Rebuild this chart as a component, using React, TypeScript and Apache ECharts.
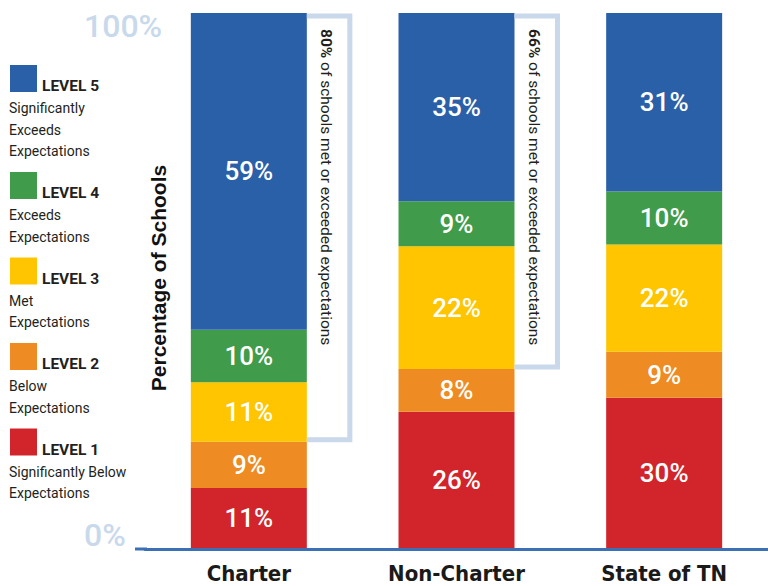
import React, { useEffect, useRef } from 'react';
import * as echarts from 'echarts';

const categories = ['Charter', 'Non-Charter', 'State of TN'];

const levelNames = ['LEVEL 1', 'LEVEL 2', 'LEVEL 3', 'LEVEL 4', 'LEVEL 5'];
const levelDescriptions = [
  ['Significantly Below', 'Expectations'],
  ['Below', 'Expectations'],
  ['Met', 'Expectations'],
  ['Exceeds', 'Expectations'],
  ['Significantly', 'Exceeds', 'Expectations'],
];
const levelColors = ['#d2242b', '#ee8b23', '#fec500', '#409b4b', '#2a60a8'];

// segment heights (percent of schools)
const level1Values = [11.4, 25.6, 28.2];
const level2Values = [8.6, 8.0, 8.6];
const level3Values = [11.1, 22.9, 20.0];
const level4Values = [9.8, 8.4, 9.9];
const level5Values = [59.1, 35.1, 33.3];

// printed labels
const level1Labels = ['11%', '26%', '30%'];
const level2Labels = ['9%', '8%', '9%'];
const level3Labels = ['11%', '22%', '22%'];
const level4Labels = ['10%', '9%', '10%'];
const level5Labels = ['59%', '35%', '31%'];

const bracketShares = [80, 66];
const yTicks = [0, 100];
const yTitle = 'Percentage of Schools';

const levelValues = [level1Values, level2Values, level3Values, level4Values, level5Values];
const levelLabels = [level1Labels, level2Labels, level3Labels, level4Labels, level5Labels];

const TEXT_FONT = 'Roboto, "Noto Sans", sans-serif';
const AXIS_BLUE = '#3b6fb6';

export default function App() {
  const ref = useRef<HTMLDivElement>(null);

  useEffect(() => {
    if (!ref.current) return;
    const chart = echarts.init(ref.current, null, { renderer: 'svg' });

    const barSeries = levelValues.map((vals, li) => ({
      type: 'bar',
      name: levelNames[li],
      stack: 'total',
      barWidth: 116,
      data: vals,
      itemStyle: { color: levelColors[li] },
      label: {
        show: true,
        position: 'inside',
        formatter: (p: any) => levelLabels[li][p.dataIndex],
        color: '#ffffff',
        fontSize: 26,
        fontWeight: 500,
        fontFamily: TEXT_FONT,
      },
    }));

    const bracketData = bracketShares.map((share, i) => [i, level1Values[i] + level2Values[i], share]);

    const bracketSeries = {
      type: 'custom',
      name: 'brackets',
      z: 5,
      encode: { x: 0, y: 1 },
      data: bracketData,
      renderItem: (params: any, api: any) => {
        const idx = api.value(0);
        const low = api.value(1);
        const share = api.value(2);
        const top = api.coord([idx, 100]);
        const bottom = api.coord([idx, low]);
        const cx = top[0];
        const x0 = cx + 58;
        const x1 = cx + 101;
        return {
          type: 'group',
          children: [
            {
              type: 'polyline',
              shape: {
                points: [
                  [x0, top[1] + 3],
                  [x1, top[1] + 3],
                  [x1, bottom[1] - 2],
                  [x0, bottom[1] - 2],
                ],
              },
              style: { stroke: '#c9d8ea', lineWidth: 5, fill: null },
            },
            {
              type: 'text',
              x: cx + 77.5,
              y: top[1] + 16,
              rotation: -Math.PI / 2,
              style: {
                text: `{b|${share}%} of schools met or exceeded expectations`,
                rich: {
                  b: { fontWeight: 'bold', fontSize: 15.5, fill: '#231f20', fontFamily: TEXT_FONT },
                },
                fontSize: 15.5,
                fontFamily: TEXT_FONT,
                fill: '#231f20',
                align: 'left',
                verticalAlign: 'middle',
              },
            },
          ],
        };
      },
    };

    // legend built from level arrays (top: level 5)
    const legendChildren: any[] = [];
    let top = 65;
    for (let li = levelNames.length - 1; li >= 0; li--) {
      legendChildren.push({
        type: 'rect',
        shape: { x: 10, y: top, width: 27, height: 27 },
        style: { fill: levelColors[li] },
      });
      legendChildren.push({
        type: 'text',
        x: 42,
        y: top + 21,
        style: {
          text: levelNames[li],
          fontSize: 15.5,
          fontWeight: 'bold',
          fontFamily: TEXT_FONT,
          fill: '#231f20',
          align: 'left',
          verticalAlign: 'middle',
        },
      });
      const desc = levelDescriptions[li];
      desc.forEach((line, k) => {
        legendChildren.push({
          type: 'text',
          x: 9,
          y: top + 43 + k * 21.5,
          style: {
            text: line,
            fontSize: 14,
            fontFamily: TEXT_FONT,
            fill: '#231f20',
            align: 'left',
            verticalAlign: 'middle',
          },
        });
      });
      top = top + 43 + (desc.length - 1) * 21.5 + 21;
    }

    const option: any = {
      animation: false,
      grid: { left: 145, right: 0, top: 13, bottom: 37 },
      xAxis: {
        type: 'category',
        data: categories,
        z: 10,
        axisLine: { lineStyle: { color: AXIS_BLUE, width: 3 } },
        axisTick: { show: false },
        axisLabel: {
          margin: 13,
          fontSize: 22,
          fontWeight: 'bold',
          fontFamily: '"Liberation Sans Narrow", "DejaVu Sans Condensed", Roboto, sans-serif',
          color: '#1a1a1a',
        },
      },
      yAxis: {
        type: 'value',
        min: yTicks[0],
        max: yTicks[1],
        interval: 100,
        axisLine: { show: false },
        axisTick: { show: false },
        splitLine: { show: false },
        axisLabel: {
          margin: 61,
          align: 'left',
          formatter: (v: number) => (v === yTicks[1] ? `{t|${v}%}` : `{b|${v}%}`),
          rich: {
            t: { padding: [26, 0, 0, 0], fontSize: 32, color: '#c9d9ec', fontFamily: TEXT_FONT, fontWeight: 500 },
            b: { padding: [0, 0, 28, 0], fontSize: 32, color: '#c9d9ec', fontFamily: TEXT_FONT, fontWeight: 500 },
          },
          fontSize: 32,
          color: '#c9d9ec',
        },
      },
      graphic: [
        { type: 'group', children: legendChildren },
        {
          type: 'line',
          shape: { x1: 135, y1: 549, x2: 147, y2: 549 },
          style: { stroke: AXIS_BLUE, lineWidth: 3 },
        },
        {
          type: 'text',
          x: 158,
          y: 278,
          rotation: Math.PI / 2,
          style: {
            text: yTitle,
            fontSize: 21,
            fontWeight: 'bold',
            fontFamily: '"Liberation Sans", Arial, sans-serif',
            fill: '#111111',
            align: 'center',
            verticalAlign: 'middle',
          },
        },
      ],
      series: [...barSeries, bracketSeries],
    };

    chart.setOption(option);
    return () => chart.dispose();
  }, []);

  return (
    <div
      ref={ref}
      style={{ position: 'fixed', left: 0, top: 0, width: 768, height: 586, background: '#ffffff' }}
    />
  );
}
